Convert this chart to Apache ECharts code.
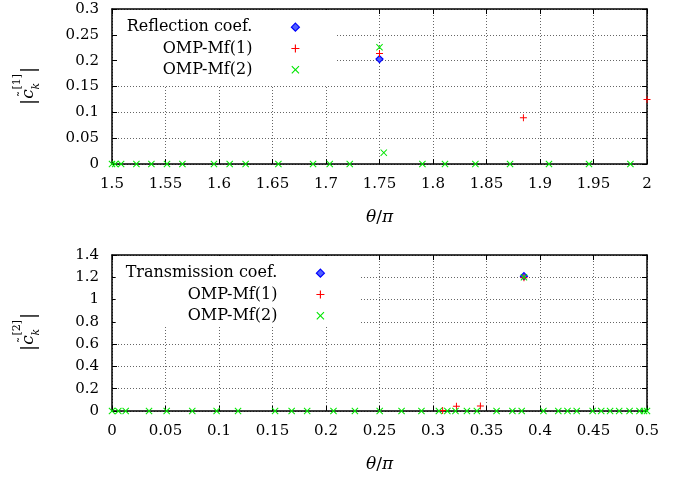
<!DOCTYPE html>
<html>
<head>
<meta charset="utf-8">
<script src="https://cdn.jsdelivr.net/npm/echarts@6/dist/echarts.min.js"></script>
<style>
  html, body { margin: 0; padding: 0; background: #fff; }
  #chart { width: 681px; height: 477px; }
</style>
</head>
<body>
<div id="chart"></div>
<script>
// ---- Reflection panel (theta/pi in [1.5, 2]) ----
const reflTheta = [1.75];
const reflVal = [0.203];
const reflMf1Theta = [1.75, 1.8845, 2.0];
const reflMf1Val = [0.214, 0.0896, 0.125];
const reflMf2Theta = [1.5, 1.503, 1.5085, 1.5228, 1.5368, 1.5514, 1.5658, 1.5953, 1.61, 1.6249,
  1.6555, 1.6879, 1.7035, 1.7222, 1.75, 1.754, 1.7901, 1.8112, 1.8396, 1.872, 1.9084, 1.9458, 1.9845];
const reflMf2Val = [0, 0, 0, 0, 0, 0, 0, 0, 0, 0,
  0, 0, 0, 0, 0.226, 0.022, 0, 0, 0, 0, 0, 0, 0];

// ---- Transmission panel (theta/pi in [0, 0.5]) ----
const transTheta = [0.385];
const transVal = [1.21];
const transMf1Theta = [0.309, 0.3219, 0.3443, 0.385];
const transMf1Val = [0.005, 0.042, 0.045, 1.195];
const transMf2Theta = [0, 0.0059, 0.0128, 0.0346, 0.0511, 0.075, 0.0978, 0.1178, 0.1524, 0.1679,
  0.1824, 0.207, 0.227, 0.2502, 0.2706, 0.2892, 0.3055, 0.3134, 0.321, 0.3317,
  0.341, 0.3594, 0.3742, 0.3829, 0.385, 0.4032, 0.4171, 0.4257, 0.4343, 0.4492,
  0.4572, 0.4655, 0.474, 0.4837, 0.493, 0.4972, 0.5];
const transMf2Val = [0, 0, 0, 0, 0, 0, 0, 0, 0, 0,
  0, 0, 0, 0, 0, 0, 0, 0, 0, 0,
  0, 0, 0, 0, 1.2, 0, 0, 0, 0, 0,
  0, 0, 0, 0, 0, 0, 0];

// axis ranges and tick steps
const reflX = { min: 1.5, max: 2, interval: 0.05 };
const reflY = { min: 0, max: 0.3, interval: 0.05 };
const transX = { min: 0, max: 0.5, interval: 0.05 };
const transY = { min: 0, max: 1.4, interval: 0.2 };

const FONT = 'DejaVu Serif';
const BLUE = '#0000ff', RED = '#ff0000', GREEN = '#00e600';
const PLUS = 'path://M4.3,0H5.7V4.3H10V5.7H5.7V10H4.3V5.7H0V4.3H4.3Z';
const CROSS = 'path://M0,1L1,0L5,4L9,0L10,1L6,5L10,9L9,10L5,6L1,10L0,9L4,5Z';

const pairs = (xs, ys) => xs.map((x, i) => [x, ys[i]]);

const axisLine = { show: true, onZero: false, lineStyle: { color: '#000', width: 1.5 } };
const axisTick = { show: true, inside: true, length: 5, lineStyle: { color: '#000', width: 1 } };
const grid = { show: true, lineStyle: { color: '#666', width: 1, type: [1, 2] } };
const label = { color: '#000', fontFamily: FONT, fontSize: 15, margin: 13 };
const thetaName = {
  name: '{i|θ}/{i|π}',
  nameLocation: 'middle',
  nameGap: 45,
  nameTextStyle: {
    color: '#000', fontFamily: FONT, fontSize: 17,
    rich: { i: { fontFamily: FONT, fontStyle: 'italic', fontSize: 17, color: '#000' } }
  }
};

function xAxes(gridIndex, r) {
  return [
    Object.assign({ type: 'value', gridIndex, position: 'bottom', min: r.min, max: r.max, interval: r.interval,
      axisLine, axisTick, splitLine: grid, axisLabel: label }, thetaName),
    { type: 'value', gridIndex, position: 'top', min: r.min, max: r.max, interval: r.interval,
      axisLine, axisTick, splitLine: { show: false }, axisLabel: { show: false } }
  ];
}
function yAxes(gridIndex, r) {
  return [
    { type: 'value', gridIndex, position: 'left', min: r.min, max: r.max, interval: r.interval,
      axisLine, axisTick, splitLine: grid, axisLabel: label },
    { type: 'value', gridIndex, position: 'right', min: r.min, max: r.max, interval: r.interval,
      axisLine, axisTick, splitLine: { show: false }, axisLabel: { show: false } }
  ];
}

function scatter(name, data, xi, yi, symbol, size, color, extra) {
  return Object.assign({
    type: 'scatter', name, data, xAxisIndex: xi, yAxisIndex: yi,
    symbol, symbolSize: size, clip: false,
    itemStyle: { color, opacity: 1 },
    emphasis: { disabled: true }, animation: false
  }, extra || {});
}

const diamondStyle = { itemStyle: { color: '#5060ff', borderColor: BLUE, borderWidth: 1.2, opacity: 1 } };

// vertical axis title |c~_k^[n]| drawn as a rotated group of text pieces
function coefTitle(cx, cy, idx) {
  const base = { fill: '#000', fontFamily: FONT, verticalAlign: 'middle' };
  return {
    type: 'group', x: cx, y: cy, rotation: Math.PI / 2,
    children: [
      { type: 'text', x: -16, y: 1, style: Object.assign({}, base, { text: '|', fontSize: 18, align: 'center' }) },
      { type: 'text', x: -8, y: 1, style: Object.assign({}, base, { text: 'c', fontSize: 17, fontStyle: 'italic', align: 'center' }) },
      { type: 'text', x: -8, y: -4, style: Object.assign({}, base, { text: '˜', fontSize: 13, align: 'center' }) },
      { type: 'text', x: -3.5, y: -10.5, style: Object.assign({}, base, { text: '[' + idx + ']', fontSize: 11, align: 'left' }) },
      { type: 'text', x: -3.5, y: 8, style: Object.assign({}, base, { text: 'k', fontSize: 11, fontStyle: 'italic', align: 'left' }) },
      { type: 'text', x: 16, y: 1, style: Object.assign({}, base, { text: '|', fontSize: 18, align: 'center' }) }
    ]
  };
}

function legend(names, top, right, padding) {
  return {
    orient: 'vertical', align: 'right', top, right, padding,
    backgroundColor: '#fff', z: 10,
    itemWidth: 8, itemHeight: 8, itemGap: 5,
    selectedMode: false,
    textStyle: { color: '#000', fontFamily: FONT, fontSize: 16, lineHeight: 16.3, padding: [0, 34, 0, 0] },
    data: [
      { name: names[0], icon: 'diamond', itemStyle: { color: '#5060ff', borderColor: BLUE, borderWidth: 1.2 } },
      { name: names[1], icon: PLUS, itemStyle: { color: RED, borderWidth: 0 } },
      { name: names[2], icon: CROSS, itemStyle: { color: GREEN, borderWidth: 0 } }
    ]
  };
}

const chart = echarts.init(document.getElementById('chart'), null, { renderer: 'canvas' });
chart.setOption({
  animation: false,
  backgroundColor: '#fff',
  grid: [
    { left: 112, top: 9, width: 535, height: 155 },
    { left: 112, top: 255, width: 535, height: 156 }
  ],
  xAxis: [].concat(xAxes(0, reflX), xAxes(1, transX)),
  yAxis: [].concat(yAxes(0, reflY), yAxes(1, transY)),
  legend: [
    legend(['Reflection coef.', 'OMP-Mf(1)', 'OMP-Mf(2)'], 10, 344, [9, 37, 7, 9]),
    legend(['Transmission coef.', 'OMP-Mf(1)', 'OMP-Mf(2)'], 256, 320, [9, 36, 2, 10])
  ],
  series: [
    scatter('Reflection coef.', pairs(reflTheta, reflVal), 0, 0, 'diamond', 7, BLUE, diamondStyle),
    scatter('OMP-Mf(1)', pairs(reflMf1Theta, reflMf1Val), 0, 0, PLUS, 7, RED),
    scatter('OMP-Mf(2)', pairs(reflMf2Theta, reflMf2Val), 0, 0, CROSS, 7, GREEN),
    scatter('Transmission coef.', pairs(transTheta, transVal), 2, 2, 'diamond', 7, BLUE, diamondStyle),
    scatter('OMP-Mf(1)', pairs(transMf1Theta, transMf1Val), 2, 2, PLUS, 7, RED),
    scatter('OMP-Mf(2)', pairs(transMf2Theta, transMf2Val), 2, 2, CROSS, 7, GREEN)
  ],
  graphic: [coefTitle(28, 86, 1), coefTitle(28, 332, 2)]
});
</script>
</body>
</html>
